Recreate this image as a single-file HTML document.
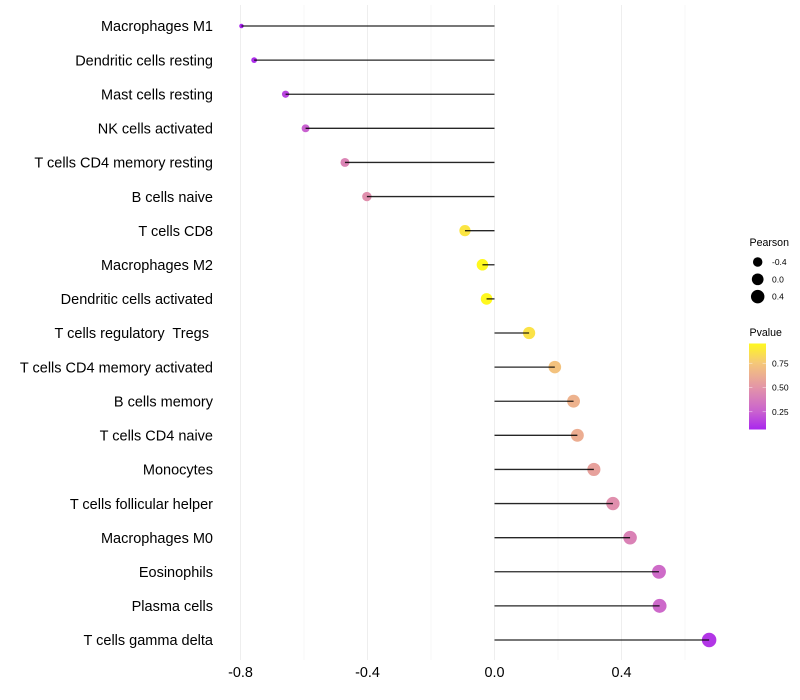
<!DOCTYPE html>
<html lang="en">
<head>
<meta charset="utf-8">
<title>Immune cell correlation lollipop chart</title>
<style>
html,body{margin:0;padding:0;background:#fff;width:800px;height:700px;overflow:hidden}
svg{display:block;font-family:"Liberation Sans",sans-serif}
text{white-space:pre}
</style>
</head>
<body>
<svg id="chart" width="800" height="700" viewBox="0 0 800 700" xmlns="http://www.w3.org/2000/svg">
  <defs>
    <linearGradient id="pvalue-gradient" x1="0" y1="1" x2="0" y2="0">
      <stop offset="0" stop-color="#a926ee"/>
      <stop offset="0.205" stop-color="#c961d0"/>
      <stop offset="0.49" stop-color="#e395a8"/>
      <stop offset="0.775" stop-color="#f5c878"/>
      <stop offset="1" stop-color="#fff81e"/>
    </linearGradient>
  </defs>
  <g id="grid"></g>
  <g id="marks"></g>
  <g id="y-labels"></g>
  <g id="x-labels"></g>
  <g id="size-legend"></g>
  <g id="color-legend"></g>
</svg>
<script>
const categories = ["Macrophages M1","Dendritic cells resting","Mast cells resting","NK cells activated","T cells CD4 memory resting","B cells naive","T cells CD8","Macrophages M2","Dendritic cells activated","T cells regulatory  Tregs ","T cells CD4 memory activated","B cells memory","T cells CD4 naive","Monocytes","T cells follicular helper","Macrophages M0","Eosinophils","Plasma cells","T cells gamma delta"];
const pearson = [-0.797,-0.757,-0.658,-0.595,-0.471,-0.402,-0.093,-0.038,-0.025,0.109,0.19,0.249,0.261,0.313,0.373,0.427,0.518,0.52,0.676];
const pvalue = [0.07,0.09,0.16,0.25,0.42,0.47,0.87,0.95,0.95,0.86,0.72,0.64,0.62,0.56,0.47,0.41,0.3,0.29,0.12];
const xMajorTicks = [-0.8,-0.4,0,0.4];
const xMinorTicks = [-0.6,-0.2,0.2,0.6];
const xTickLabels = ["-0.8","-0.4","0.0","0.4"];
const sizeLegendValues = [-0.4,0,0.4];
const sizeLegendLabels = ["-0.4","0.0","0.4"];
const colorLegendValues = [0.75,0.5,0.25];
const colorLegendLabels = ["0.75","0.50","0.25"];

const NS = "http://www.w3.org/2000/svg";
const x = v => 494.5 + v * 317.5;
const y = i => 26 + i * (614 / 18);
const pearsonMin = -0.8, pearsonMax = 0.68;
const diameter = v => 4 + 10.5 * Math.sqrt(Math.max(0, (v - pearsonMin) / (pearsonMax - pearsonMin)));
const legendP = p => 387.5 - (p - 0.5) * 97;
const colorStops = [[0.07,[169,38,238]],[0.25,[201,97,208]],[0.5,[227,149,168]],[0.75,[245,200,120]],[0.95,[255,248,30]]];
function colorOf(p){
  let s = colorStops;
  if (p <= s[0][0]) return "rgb(" + s[0][1].join(",") + ")";
  for (let k = 1; k < s.length; k++) {
    if (p <= s[k][0]) {
      const t = (p - s[k-1][0]) / (s[k][0] - s[k-1][0]);
      const c = s[k-1][1].map((a, j) => Math.round(a + (s[k][1][j] - a) * t));
      return "rgb(" + c.join(",") + ")";
    }
  }
  return "rgb(" + s[s.length-1][1].join(",") + ")";
}
function make(tag, attrs, parent, content){
  const el = document.createElementNS(NS, tag);
  for (const key in attrs) el.setAttribute(key, attrs[key]);
  if (content !== undefined) el.textContent = content;
  parent.appendChild(el);
  return el;
}
const grid = document.getElementById("grid");
const marks = document.getElementById("marks");
const yLabels = document.getElementById("y-labels");
const xLabels = document.getElementById("x-labels");
const sizeLegend = document.getElementById("size-legend");
const colorLegend = document.getElementById("color-legend");

xMinorTicks.forEach(v => {
  const el = make("line", {x1:x(v), x2:x(v), y1:5, y2:660, stroke:"#f4f4f4", "stroke-width":0.7}, grid);
  
  
});
xMajorTicks.forEach((v, i) => {
  const el = make("line", {x1:x(v), x2:x(v), y1:5, y2:660, stroke:"#eeeeee", "stroke-width":1}, grid);
  
  
  const label = make("text", {x:x(v), y:677, "text-anchor":"middle", "font-size":"14.4px", fill:"#000"}, xLabels, xTickLabels[i]);
  
  
});
categories.forEach((name, i) => {
  const dot = make("circle", {cx:x(pearson[i]), cy:y(i), r:diameter(pearson[i]) / 2, fill:colorOf(pvalue[i])}, marks);
  
  
  const stem = make("line", {x1:x(0), x2:x(pearson[i]), y1:y(i), y2:y(i), stroke:"#000", "stroke-width":1.3, "stroke-opacity":0.85}, marks);
  
  
  const label = make("text", {x:213, y:y(i) + 5.2, "text-anchor":"end", "font-size":"14.5px", fill:"#000"}, yLabels, name);
  
  
});

const sizeTitle = make("text", {x:749.5, y:246, "font-size":"10.6px", fill:"#000"}, sizeLegend, "Pearson");


sizeLegendValues.forEach((v, i) => {
  const cy = 262 + i * 17.3;
  const dot = make("circle", {cx:757.7, cy:cy, r:diameter(v) / 2, fill:"#000"}, sizeLegend);
  
  
  const label = make("text", {x:772, y:cy + 3, "font-size":"8.5px", fill:"#000"}, sizeLegend, sizeLegendLabels[i]);
  
  
});

const colorTitle = make("text", {x:749.5, y:336, "font-size":"10.6px", fill:"#000"}, colorLegend, "Pvalue");


const bar = make("rect", {x:749, y:343.5, width:17, height:86, fill:"url(#pvalue-gradient)"}, colorLegend);


colorLegendValues.forEach((v, i) => {
  const py = legendP(v);
  const tickLeft = make("line", {x1:749, x2:752.4, y1:py, y2:py, stroke:"#fff", "stroke-opacity":0.7, "stroke-width":0.6}, colorLegend);
  
  
  const tickRight = make("line", {x1:762.6, x2:766, y1:py, y2:py, stroke:"#fff", "stroke-opacity":0.7, "stroke-width":0.6}, colorLegend);
  
  
  const label = make("text", {x:772, y:py + 3, "font-size":"8.5px", fill:"#000"}, colorLegend, colorLegendLabels[i]);
  
  
});
</script>
</body>
</html>
